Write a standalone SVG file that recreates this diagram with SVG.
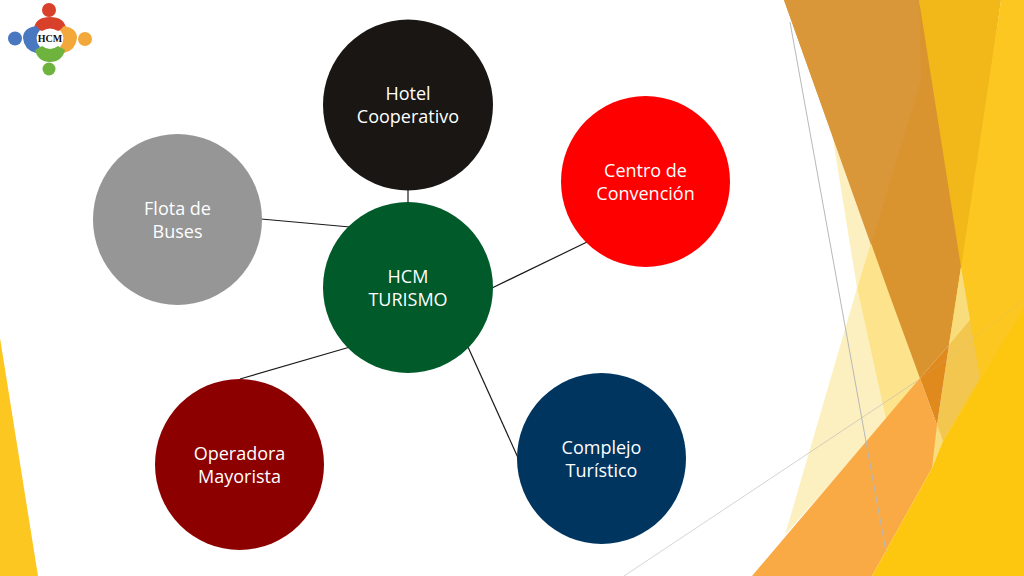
<svg xmlns="http://www.w3.org/2000/svg" width="1024" height="576" viewBox="0 0 1024 576">
<style>
.t{font-family:"Open Sans",sans-serif;font-size:18px;fill:#fff;text-anchor:middle}
.c{stroke:#1a1a1a;stroke-width:1.2;fill:none}
.g{stroke:#b8b8b8;stroke-width:1;fill:none}
</style>
<rect width="1024" height="576" fill="#fff"/>
<g id="background">
<polygon points="0,338 38,576 0,576" fill="#fcc721"/>
<polygon points="832,133 871,245 857,288" fill="#fdf0c0"/>
<polygon points="857,288 886,420 785,535" fill="#fdf0c0"/>
<polygon points="871,243 925,378 886,420 857,288" fill="#fde48c"/>
<polygon points="919,0 1001,0 961,288 950,345" fill="#f2b718"/>
<polygon points="784,0 919,0 961,267 949,345 920,378 937,425 887,288" fill="#d99430"/>
<polygon points="784,0 919,0 921,80 871,245" fill="#da973a"/>
<polygon points="1001,0 1024,0 1024,310 943,441 958,288" fill="#fcc721"/>
<polygon points="961,267 980,378 943,441 937,425 949,345" fill="#f3c650"/>
<polygon points="961,267 970,320 949,345" fill="#f9dd7c"/>
<polygon points="920,378 949,345 937,425" fill="#e08a1e"/>
<polygon points="920,378 937,425 943,441 932,468 872,576 752,576" fill="#f9aa45"/>
<polygon points="1024,308 1024,576 872,576 932,468 943,441" fill="#fdc70f"/>
<polygon points="937,425 943,441 932,468" fill="#f9dd7c"/>
<line class="g" x1="790" y1="22" x2="886" y2="552"/>
<line class="g" opacity="0.6" x1="624" y1="576" x2="917" y2="381"/>
<line class="g" opacity="0.2" x1="917" y1="381" x2="1024" y2="300"/>
</g>
<g id="logo">
<circle cx="49" cy="10" r="7" fill="#d9402a"/>
<path d="M34 28Q36 17 50 17Q64 17 66 28L58 31Q50 26 42 31Z" fill="#d9402a"/>
<circle cx="15" cy="38.500" r="7" fill="#4a78c0"/>
<path d="M36 26Q23 28 23 38Q24 50 36 53L40 47Q33 38 40 30Z" fill="#4a78c0"/>
<circle cx="85" cy="39" r="7" fill="#f2a83a"/>
<path d="M64 26Q77 28 77 38Q76 50 64 53L60 47Q67 38 60 30Z" fill="#f2a83a"/>
<circle cx="49" cy="69" r="6.500" fill="#6fb33f"/>
<path d="M35 50Q38 62 50 62Q62 62 65 50L58 46Q50 52 42 46Z" fill="#6fb33f"/>
<text x="50" y="42" font-family="Liberation Serif,serif" font-size="10" font-weight="bold" text-anchor="middle" fill="#111">HCM</text>
</g>
<g id="connectors">
<line class="c" x1="408" y1="188" x2="408" y2="204"/>
<line class="c" x1="261" y1="219" x2="350" y2="227"/>
<line class="c" x1="492" y1="288" x2="587" y2="242"/>
<line class="c" x1="350" y1="347" x2="240" y2="379"/>
<line class="c" x1="468" y1="347" x2="519" y2="460"/>
</g>
<g id="hotel"><ellipse cx="408" cy="105" rx="85" ry="85.500" fill="#1a1613"/><text class="t" x="408" y="100">Hotel</text><text class="t" x="408" y="123">Cooperativo</text></g>
<g id="centro"><ellipse cx="645.500" cy="181.500" rx="84.500" ry="85.500" fill="#ff0000"/><text class="t" x="645.500" y="177">Centro de</text><text class="t" x="645.500" y="200">Convención</text></g>
<g id="flota"><ellipse cx="177.500" cy="219.500" rx="84.500" ry="85.500" fill="#969696"/><text class="t" x="177.500" y="215">Flota de</text><text class="t" x="177.500" y="238">Buses</text></g>
<g id="hcm"><ellipse cx="408" cy="287.500" rx="85" ry="85.500" fill="#005a2a"/><text class="t" x="408" y="283">HCM</text><text class="t" x="408" y="306">TURISMO</text></g>
<g id="operadora"><ellipse cx="239.500" cy="464.500" rx="84.500" ry="85.500" fill="#8c0000"/><text class="t" x="239.500" y="460">Operadora</text><text class="t" x="239.500" y="483">Mayorista</text></g>
<g id="complejo"><ellipse cx="601.500" cy="458.500" rx="84.500" ry="85.500" fill="#003560"/><text class="t" x="601.500" y="454">Complejo</text><text class="t" x="601.500" y="477">Turístico</text></g>
</svg>
